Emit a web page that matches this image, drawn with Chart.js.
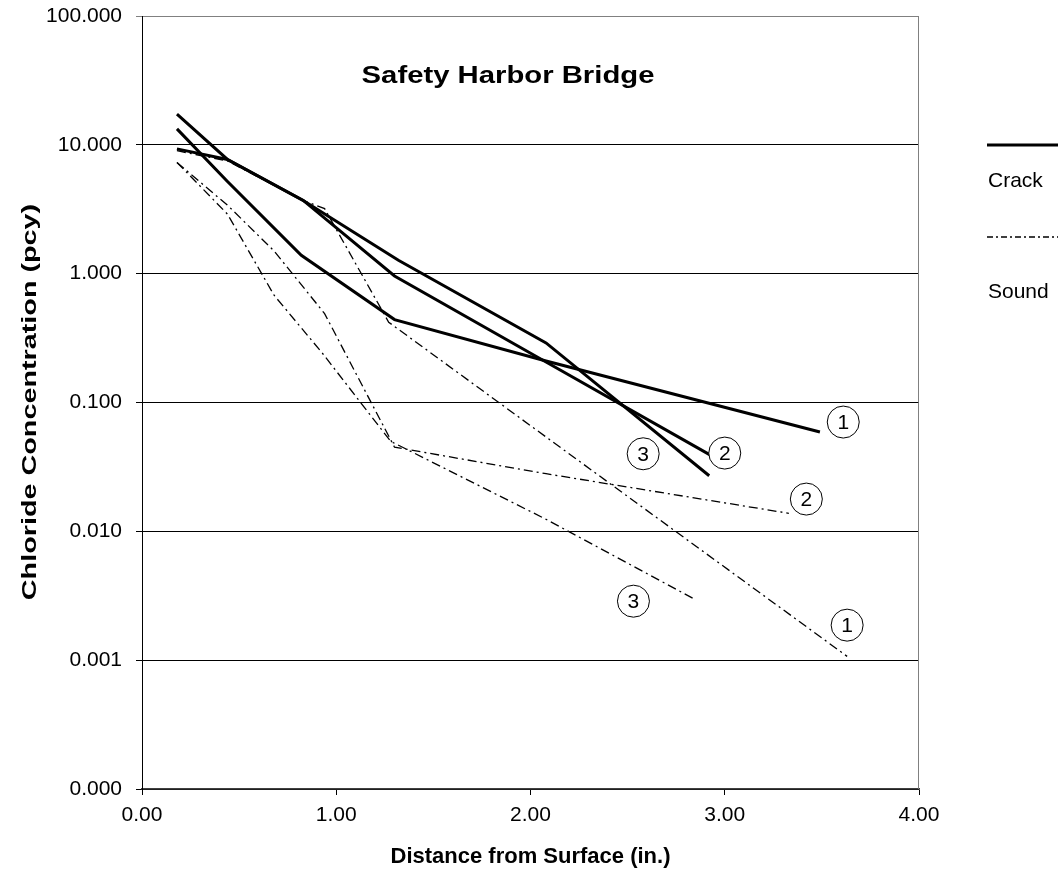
<!DOCTYPE html>
<html>
<head>
<meta charset="utf-8">
<script src="https://cdn.jsdelivr.net/npm/chart.js@4.4.0/dist/chart.umd.min.js"></script>
<style>
  html, body { margin: 0; padding: 0; background: #fff; }
  #wrap { width: 1062px; height: 873px; }
</style>
</head>
<body>
<div id="wrap"><canvas id="chlorideChart" width="1062" height="873"></canvas></div>
<script>
// depth (in.) and chloride (pcy) for each core
var crack1X = [0.18, 0.44, 0.82, 1.30, 2.08, 3.49];
var crack1Y = [13.3, 5.2, 1.39, 0.44, 0.21, 0.059];
var crack2X = [0.18, 0.44, 0.83, 1.30, 2.08, 2.94];
var crack2Y = [9.3, 7.7, 3.7, 0.96, 0.206, 0.038];
var crack3X = [0.18, 0.44, 0.83, 1.32, 2.08, 2.92];
var crack3Y = [17.3, 7.7, 3.7, 1.27, 0.29, 0.027];

var sound1X = [0.18, 0.44, 0.83, 0.94, 1.27, 2.08, 3.63];
var sound1Y = [9.0, 7.5, 3.7, 3.2, 0.42, 0.054, 0.00107];
var sound2X = [0.18, 0.44, 0.68, 0.94, 1.30, 2.08, 3.33];
var sound2Y = [7.3, 3.4, 1.5, 0.49, 0.045, 0.028, 0.0138];
var sound3X = [0.18, 0.44, 0.68, 0.93, 1.28, 2.08, 2.84];
var sound3Y = [7.3, 2.9, 0.68, 0.24, 0.05, 0.0124, 0.003];

var yTicks = [0.0001, 0.001, 0.01, 0.1, 1, 10, 100];
var xTicks = [0, 1, 2, 3, 4];

// circled core numbers beside the line ends
var tagText = ['1', '2', '3', '2', '3', '1'];
var tagX = [3.61, 3.00, 2.58, 3.42, 2.53, 3.63];
var tagY = [0.0705, 0.0405, 0.040, 0.0178, 0.00287, 0.00187];

var FONT = "'Liberation Sans', Arial, sans-serif";

function pts(xs, ys) {
    return xs.map(function(x, i) { return { x: x, y: ys[i] }; });
}

var crackStyle = { borderColor: '#000', borderWidth: 3, pointRadius: 0, fill: false, tension: 0 };
var soundStyle = { borderColor: '#000', borderWidth: 1.3, borderDash: [9, 4, 2, 4], pointRadius: 0, fill: false, tension: 0 };

var datasets = [
    Object.assign({ label: 'Crack 1', data: pts(crack1X, crack1Y) }, crackStyle),
    Object.assign({ label: 'Crack 2', data: pts(crack2X, crack2Y) }, crackStyle),
    Object.assign({ label: 'Crack 3', data: pts(crack3X, crack3Y) }, crackStyle),
    Object.assign({ label: 'Sound 1', data: pts(sound1X, sound1Y) }, soundStyle),
    Object.assign({ label: 'Sound 2', data: pts(sound2X, sound2Y) }, soundStyle),
    Object.assign({ label: 'Sound 3', data: pts(sound3X, sound3Y) }, soundStyle)
];

// text drawn wider than the font, like the original export
function stretchedText(ctx, text, x, y, font, sx, rot) {
    ctx.save();
    ctx.translate(x, y);
    ctx.rotate(rot);
    ctx.scale(sx, 1);
    ctx.font = font;
    ctx.textAlign = 'center';
    ctx.textBaseline = 'middle';
    ctx.fillStyle = '#000';
    ctx.fillText(text, 0, 0);
    ctx.restore();
}

var extras = {
    id: 'extras',
    beforeDatasetsDraw: function(chart) {
        var ctx = chart.ctx, a = chart.chartArea;
        ctx.save();
        ctx.strokeStyle = '#808080';
        ctx.lineWidth = 1;
        ctx.beginPath();
        ctx.moveTo(a.right - 0.5, a.top);
        ctx.lineTo(a.right - 0.5, a.bottom);
        ctx.stroke();
        ctx.restore();
    },
    afterDraw: function(chart) {
        var ctx = chart.ctx, a = chart.chartArea;
        var xs = chart.scales.x, ys = chart.scales.y;

        stretchedText(ctx, 'Safety Harbor Bridge', 508, a.top + 60, 'bold 24px ' + FONT, 1.22, 0);
        stretchedText(ctx, 'Chloride Concentration (pcy)', 30, 402, 'bold 21px ' + FONT, 1.37, -Math.PI / 2);

        ctx.save();
        ctx.fillStyle = '#000';
        ctx.textAlign = 'center';
        ctx.textBaseline = 'middle';
        // circled numbers
        ctx.font = '21px ' + FONT;
        ctx.lineWidth = 1;
        for (var i = 0; i < tagText.length; i++) {
            var px = xs.getPixelForValue(tagX[i]);
            var py = ys.getPixelForValue(tagY[i]);
            ctx.fillStyle = '#fff';
            ctx.beginPath();
            ctx.arc(px, py, 16, 0, Math.PI * 2);
            ctx.fill();
            ctx.strokeStyle = '#000';
            ctx.stroke();
            ctx.fillStyle = '#000';
            ctx.fillText(tagText[i], px, py + 1);
        }

        // legend on the right
        var lx = 987, lw = 71;
        ctx.strokeStyle = '#000';
        ctx.lineWidth = 3;
        ctx.setLineDash([]);
        ctx.beginPath();
        ctx.moveTo(lx, 145);
        ctx.lineTo(lx + lw, 145);
        ctx.stroke();
        ctx.lineWidth = 1.3;
        ctx.setLineDash([6, 3, 2, 3]);
        ctx.beginPath();
        ctx.moveTo(lx, 237);
        ctx.lineTo(lx + lw, 237);
        ctx.stroke();
        ctx.setLineDash([]);
        ctx.font = '21px ' + FONT;
        ctx.textAlign = 'left';
        ctx.fillText('Crack', 988, 181);
        ctx.fillText('Sound', 988, 292);
        ctx.restore();
    }
};

var ctx = document.getElementById('chlorideChart').getContext('2d');
var chlorideChart = new Chart(ctx, {
    type: 'line',
    data: { datasets: datasets },
    options: {
        responsive: false,
        animation: false,
        layout: { padding: { top: 16, right: 143, left: 0, bottom: 0 } },
        plugins: { legend: { display: false }, tooltip: { enabled: false } },
        scales: {
            x: {
                type: 'linear',
                min: 0,
                max: 4,
                afterBuildTicks: function(scale) {
                    scale.ticks = xTicks.map(function(v) { return { value: v }; });
                },
                afterFit: function(scale) {
                    scale.height = 84;
                    scale.paddingLeft = 0;
                    scale.paddingRight = 0;
                },
                border: { color: '#404040', width: 1.5 },
                grid: { drawOnChartArea: false, drawTicks: true, tickLength: 6, color: '#000' },
                ticks: {
                    color: '#000',
                    font: { family: FONT, size: 21 },
                    padding: 8,
                    maxRotation: 0,
                    callback: function(v) { return Number(v).toFixed(2); }
                },
                title: {
                    display: true,
                    text: 'Distance from Surface (in.)',
                    color: '#000',
                    font: { family: FONT, size: 22, weight: 'bold' },
                    padding: { top: 0, bottom: 3 }
                }
            },
            y: {
                type: 'logarithmic',
                min: 0.0001,
                max: 100,
                afterBuildTicks: function(scale) {
                    scale.ticks = yTicks.map(function(v) { return { value: v }; });
                },
                afterFit: function(scale) {
                    scale.width = 142;
                    scale.paddingTop = 0;
                    scale.paddingBottom = 0;
                },
                border: { color: '#000', width: 1 },
                grid: {
                    color: function(c) { return c.tick && c.tick.value === 100 ? '#808080' : '#000'; },
                    lineWidth: 1,
                    tickLength: 6
                },
                ticks: {
                    color: '#000',
                    font: { family: FONT, size: 21 },
                    padding: 14,
                    callback: function(v) { return Number(v).toFixed(3); }
                },
                title: { display: false }
            }
        }
    },
    plugins: [extras]
});
</script>
</body>
</html>
